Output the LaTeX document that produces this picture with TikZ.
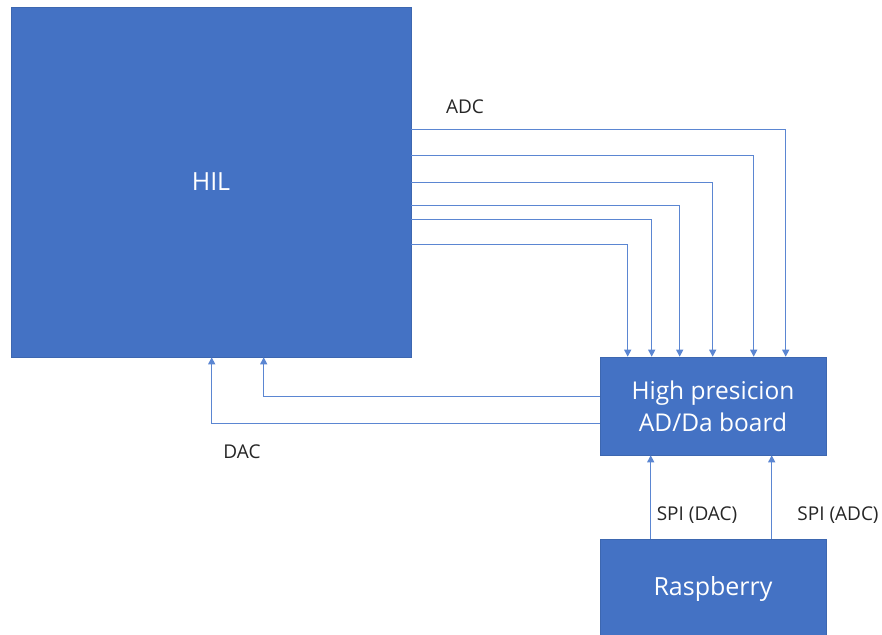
\documentclass[tikz,border=0pt]{standalone}
\usepackage{fontspec}
\setmainfont{Open Sans}
\usetikzlibrary{arrows.meta}
\definecolor{boxblue}{HTML}{4472C4}
\definecolor{lineblue}{HTML}{5B86D2}
\definecolor{labelgray}{HTML}{262626}
\begin{document}
\begin{tikzpicture}[x=1pt,y=-1pt,
  block/.style={rectangle,fill=boxblue,draw=boxblue!90!black,line width=0.6pt,text=white,inner sep=0pt,align=center},
  conn/.style={draw=lineblue,line width=1.3pt,-{Triangle[width=7pt,length=7pt]}},
  lbl/.style={text=labelgray,font=\fontsize{19}{22}\selectfont,inner sep=0pt}]
\useasboundingbox (0,0) rectangle (882,634);
\fill[white] (0,0) rectangle (882,634);
\node[block,minimum width=400pt,minimum height=350pt,font=\fontsize{25}{30}\selectfont] (hil) at (211,182) {HIL};
\node[block,minimum width=226pt,minimum height=98pt,font=\fontsize{24.5}{32}\selectfont] (board) at (713,406) {High presicion\\AD/Da board};
\node[block,minimum width=226pt,minimum height=100pt,anchor=north] (rasp) at (713,539) {};
\node[text=white,font=\fontsize{25}{30}\selectfont,inner sep=0pt] (rasplbl) at (713,589) {Raspberry};
% ADC lines
\draw[conn] ([yshift=-123pt]hil.north east) -| ([xshift=186pt]board.north west);
\draw[conn] ([yshift=-149pt]hil.north east) -| ([xshift=154pt]board.north west);
\draw[conn] ([yshift=-176pt]hil.north east) -| ([xshift=113pt]board.north west);
\draw[conn] ([yshift=-199pt]hil.north east) -| ([xshift=80pt]board.north west);
\draw[conn] ([yshift=-213pt]hil.north east) -| ([xshift=52pt]board.north west);
\draw[conn] ([yshift=-238pt]hil.north east) -| ([xshift=28pt]board.north west);
% DAC lines
\draw[conn] ([yshift=-40pt]board.north west) -| ([xshift=253pt]hil.south west);
\draw[conn] ([yshift=-67pt]board.north west) -| ([xshift=201pt]hil.south west);
% SPI lines
\draw[conn] ([xshift=51pt]rasp.north west) -- ([xshift=51pt]board.south west);
\draw[conn] ([xshift=172pt]rasp.north west) -- ([xshift=172pt]board.south west);
% labels
\node[lbl] (adc) at (465,107) {ADC};
\node[lbl] (dac) at (242,452) {DAC};
\node[lbl] (spidac) at (697,515) {SPI (DAC)};
\node[lbl] (spiadc) at (838,515) {SPI (ADC)};
\end{tikzpicture}
\end{document}
